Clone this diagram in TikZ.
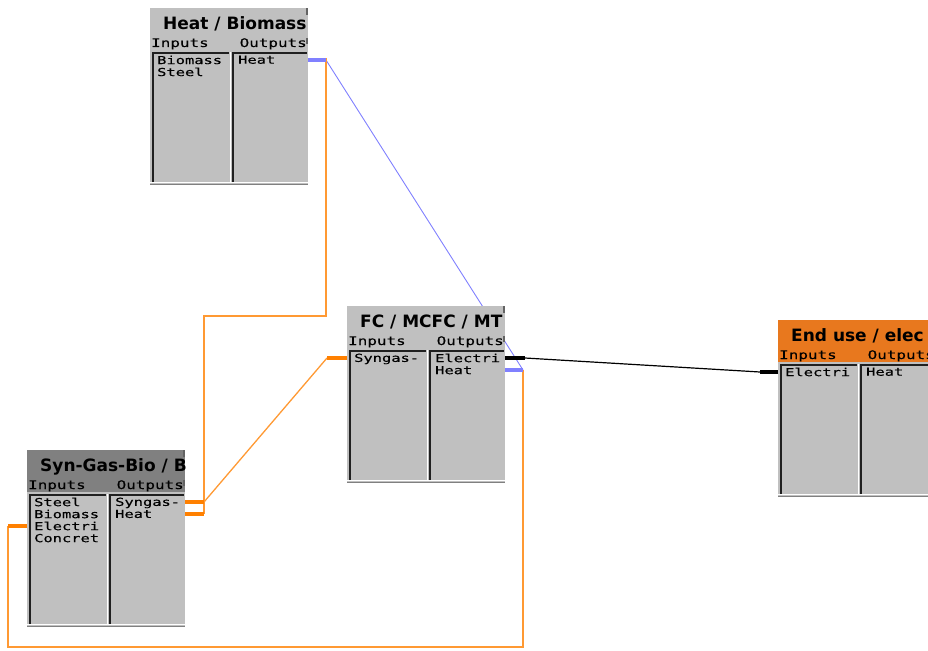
\documentclass[tikz,border=0pt]{standalone}
\usepackage{fontspec}
\usetikzlibrary{backgrounds}
\newfontfamily\pixfont[FakeStretch=1.4,FakeBold=0.4]{DejaVu Sans Mono}
\newfontfamily\rowfont[FakeStretch=1.35,FakeBold=0.3]{DejaVu Sans Mono}
\newfontfamily\ttlfont{DejaVu Sans}
\definecolor{boxgray}{HTML}{C0C0C0}
\definecolor{titledark}{HTML}{808080}
\definecolor{endorange}{HTML}{E8781E}
\definecolor{wireblue}{HTML}{8080FF}
\definecolor{wireorange}{HTML}{FF9933}
\definecolor{stuborange}{HTML}{FF8000}
\definecolor{paneldark}{HTML}{202020}
\tikzset{
  ttl/.style={anchor=base west, inner sep=0pt, font=\ttlfont\bfseries\fontsize{17}{18}\selectfont},
  rowtxt/.style={inner sep=0pt, font=\rowfont\fontsize{11.8}{12}\selectfont},
  celltxt/.style={anchor=north west, inner sep=0pt, align=left, font=\pixfont\fontsize{11}{12}\selectfont},
  stubb/.style={line width=3.5pt, wireblue},
  stubo/.style={line width=3.5pt, stuborange},
  stubk/.style={line width=3.5pt, black},
  wblue/.style={line width=0.9pt, wireblue},
  worange/.style={line width=1.3pt, wireorange},
  wblack/.style={line width=1.2pt, black},
}
\newcommand{\modbox}[7]{%
\begin{scope}[shift={(#2,#3)}]
  \node[anchor=north west, minimum width=158pt, minimum height=176pt, inner sep=0pt] (#1) at (0,0) {};
  \fill[#5] (0,0) rectangle (158,42);
  \fill[boxgray] (0,42) rectangle (158,176);
  \fill[paneldark!70] (156,0) rectangle (158,7);
  \fill[paneldark!70] (156,30) rectangle (158,36);
  \begin{scope}
    \clip (0,0) rectangle (158,28);
    \node[ttl] (#1-title) at (13,21.5) {#4};
  \end{scope}
  \node[rowtxt, anchor=base west] (#1-inl) at (1,39) {Inputs};
  \node[rowtxt, anchor=base east] (#1-outl) at (157,39) {Outputs};
  \draw[white, line width=1pt] (80,44) -- (80,175);
  \draw[white, line width=1pt] (0,174.5) -- (158,174.5);
  \draw[gray, line width=1pt] (0,176) -- (158,176);
  \draw[paneldark, line width=2pt] (3,174) -- (3,45) -- (79,45);
  \draw[paneldark, line width=2pt] (83,174) -- (83,45) -- (157,45);
  \begin{scope}
    \clip (4,46) rectangle (79,174);
    \node[celltxt] (#1-ins) at (7,47.5) {#6};
  \end{scope}
  \begin{scope}
    \clip (84,46) rectangle (157,174);
    \node[celltxt] (#1-outs) at (88,47.5) {#7};
  \end{scope}
  \coordinate (#1-i1) at (0,52);
  \coordinate (#1-i2) at (0,64);
  \coordinate (#1-i3) at (0,76);
  \coordinate (#1-o1) at (158,52);
  \coordinate (#1-o2) at (158,64);
\end{scope}}
\begin{document}
\begin{tikzpicture}[x=1pt,y=-1pt]
\useasboundingbox (0,0) rectangle (928,650);
\clip (0,0) rectangle (928,650);

\modbox{hb}{150}{8}{Heat / Biomass}{boxgray}{Biomass\\Steel}{Heat}
\modbox{fc}{347}{306}{FC / MCFC / MT}{boxgray}{Syngas-}{Electri\\Heat}
\modbox{syn}{27}{450}{Syn-Gas-Bio / B}{titledark}{Steel\\Biomass\\Electri\\Concret}{Syngas-\\Heat}
\modbox{end}{778}{320}{End use / elec}{endorange}{Electri}{Heat}

% stubs
\draw[stubb] (hb-o1) -- ++(18,0) coordinate (hbq);
\draw[stubb] (fc-o2) -- ++(18,0) coordinate (fcq2);
\draw[stubk] (fc-o1) -- ++(20,0) coordinate (fcq1);
\draw[stubo] (fc-i1) -- ++(-20,0) coordinate (fcqi1);
\draw[stubo] (syn-o1) -- ++(19,0) coordinate (sq1);
\draw[stubo] (syn-o2) -- ++(19,0) coordinate (sq2);
\draw[stubo] (syn-i3) -- ++(-19,0) coordinate (sqi3);
\draw[stubk] (end-i1) -- ++(-18,0) coordinate (eqi1);

\coordinate (bendA) at (0,316);
\coordinate (bendB) at (0,647);

\begin{pgfonlayer}{background}
\draw[wblue] (hbq) -- (fcq2);
\draw[worange] (sq2) -- (sq2 |- bendA) -- (hbq |- bendA) -- ([yshift=2pt]hbq);
\draw[worange] (sq1) -- (fcqi1);
\draw[worange] (fcq2) -- (fcq2 |- bendB) -- (sqi3 |- bendB) -- (sqi3);
\draw[wblack] (fcq1) -- (eqi1);
\end{pgfonlayer}
\end{tikzpicture}
\end{document}
